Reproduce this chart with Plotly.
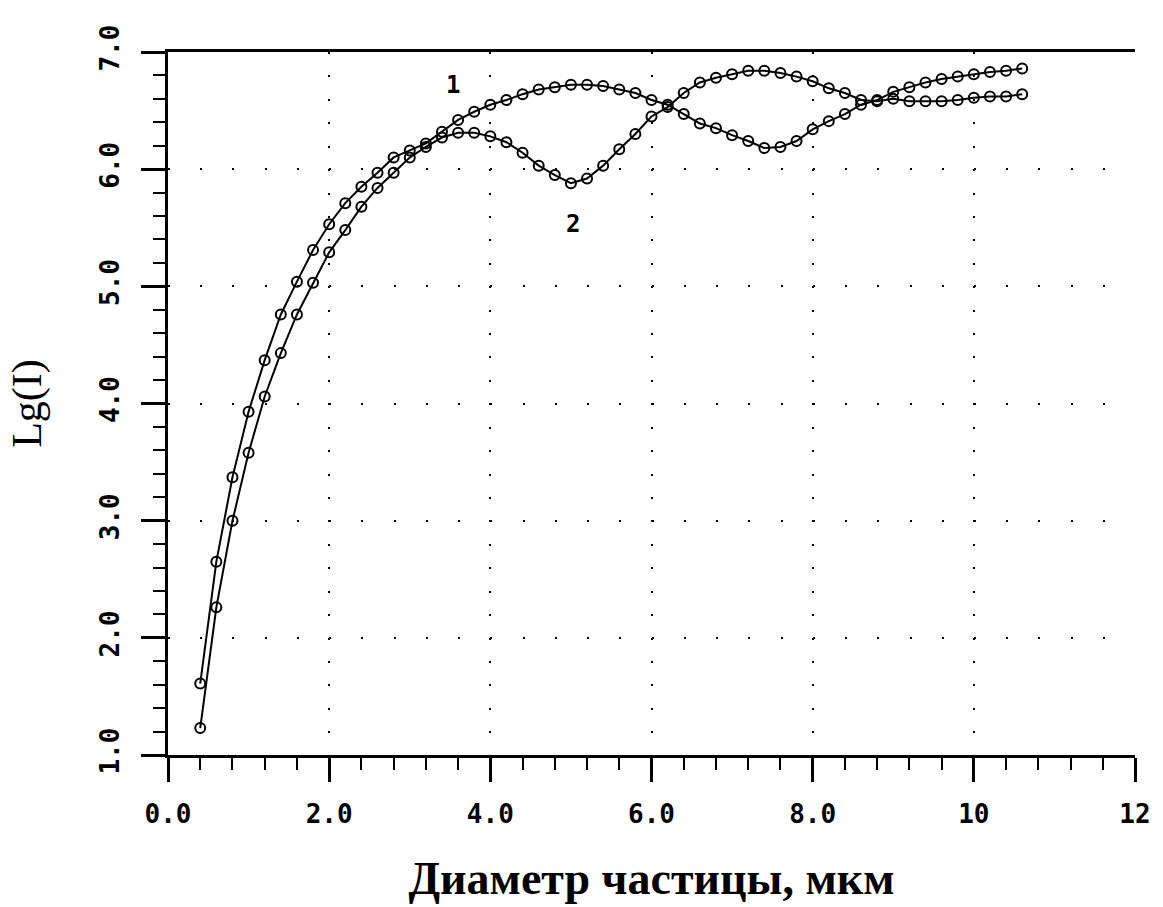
import plotly.graph_objects as go

# ---- data ----
diameter = [0.4, 0.6, 0.8, 1.0, 1.2, 1.4, 1.6, 1.8, 2.0, 2.2, 2.4, 2.6, 2.8, 3.0, 3.2, 3.4,
            3.6, 3.8, 4.0, 4.2, 4.4, 4.6, 4.8, 5.0, 5.2, 5.4, 5.6, 5.8, 6.0, 6.2, 6.4, 6.6,
            6.8, 7.0, 7.2, 7.4, 7.6, 7.8, 8.0, 8.2, 8.4, 8.6, 8.8, 9.0, 9.2, 9.4, 9.6, 9.8,
            10.0, 10.2, 10.4, 10.6]

curve1 = [1.61, 2.65, 3.37, 3.93, 4.37, 4.76, 5.04, 5.31, 5.53, 5.71, 5.85, 5.97, 6.10, 6.16,
          6.22, 6.32, 6.42, 6.49, 6.55, 6.59, 6.64, 6.68, 6.70, 6.72, 6.72, 6.71, 6.68, 6.65,
          6.59, 6.55, 6.47, 6.39, 6.35, 6.29, 6.24, 6.18, 6.19, 6.24, 6.34, 6.41, 6.47, 6.55,
          6.59, 6.66, 6.70, 6.74, 6.77, 6.79, 6.81, 6.83, 6.84, 6.86]

curve2 = [1.23, 2.26, 3.00, 3.58, 4.06, 4.43, 4.76, 5.03, 5.29, 5.48, 5.68, 5.84, 5.97, 6.10,
          6.19, 6.27, 6.31, 6.31, 6.28, 6.23, 6.14, 6.03, 5.95, 5.88, 5.92, 6.03, 6.17, 6.30,
          6.45, 6.53, 6.65, 6.74, 6.78, 6.81, 6.84, 6.84, 6.82, 6.79, 6.75, 6.69, 6.65, 6.59,
          6.58, 6.60, 6.58, 6.58, 6.58, 6.59, 6.61, 6.62, 6.62, 6.64]

x_tickvals = [0, 2, 4, 6, 8, 10, 12]
x_ticktext = ["0.0", "2.0", "4.0", "6.0", "8.0", "10", "12"]
y_tickvals = [1, 2, 3, 4, 5, 6, 7]
y_ticktext = ["1.0", "2.0", "3.0", "4.0", "5.0", "6.0", "7.0"]

label_text = ["1", "2"]
label_x = [3.54, 5.02]
label_y = [6.72, 5.53]

x_title = "Диаметр частицы, мкм"
y_title = "Lg(I)"

# ---- figure ----
fig = go.Figure()
for ys in (curve1, curve2):
    fig.add_trace(go.Scatter(
        x=diameter, y=ys, mode="lines+markers",
        line=dict(color="black", width=2),
        marker=dict(symbol="circle-open", size=10, color="black", line=dict(width=2)),
        showlegend=False,
    ))

for t, lx, ly in zip(label_text, label_x, label_y):
    fig.add_annotation(x=lx, y=ly, text="<b>%s</b>" % t, showarrow=False,
                       font=dict(family="DejaVu Sans Mono", size=24, color="black"))

tickfont = dict(family="DejaVu Sans Mono", size=26, color="black", weight="bold")

fig.update_xaxes(
    range=[0, 12], tickvals=x_tickvals, ticktext=x_ticktext,
    showline=True, linecolor="black", linewidth=3, mirror=True,
    ticks="outside", ticklen=24, tickwidth=3, tickcolor="black",
    minor=dict(dtick=0.4, tick0=0, ticks="outside", ticklen=12, tickwidth=2,
               tickcolor="black", showgrid=False),
    showgrid=True, gridcolor="black", gridwidth=2, griddash="2px,21.42px",
    zeroline=False, tickfont=tickfont, ticklabelstandoff=10,
    title=dict(text=x_title, standoff=34,
               font=dict(family="Liberation Serif", size=46, color="black", weight="bold")),
)
fig.update_yaxes(
    range=[1, 7], tickvals=y_tickvals, ticktext=y_ticktext, tickangle=-90,
    showline=True, linecolor="black", linewidth=3, mirror=False,
    ticks="outside", ticklen=24, tickwidth=3, tickcolor="black",
    minor=dict(dtick=0.2, tick0=1, ticks="outside", ticklen=12, tickwidth=2,
               tickcolor="black", showgrid=False),
    showgrid=True, gridcolor="black", gridwidth=2, griddash="2px,30.24px",
    zeroline=False, tickfont=tickfont, ticklabelstandoff=12,
    title=dict(text=y_title, standoff=40,
               font=dict(family="Liberation Serif", size=42, color="black")),
)

fig.update_layout(
    width=1163, height=907,
    margin=dict(l=168, r=28, t=52, b=152),
    plot_bgcolor="white", paper_bgcolor="white",
)

fig.write_html("out.html")
